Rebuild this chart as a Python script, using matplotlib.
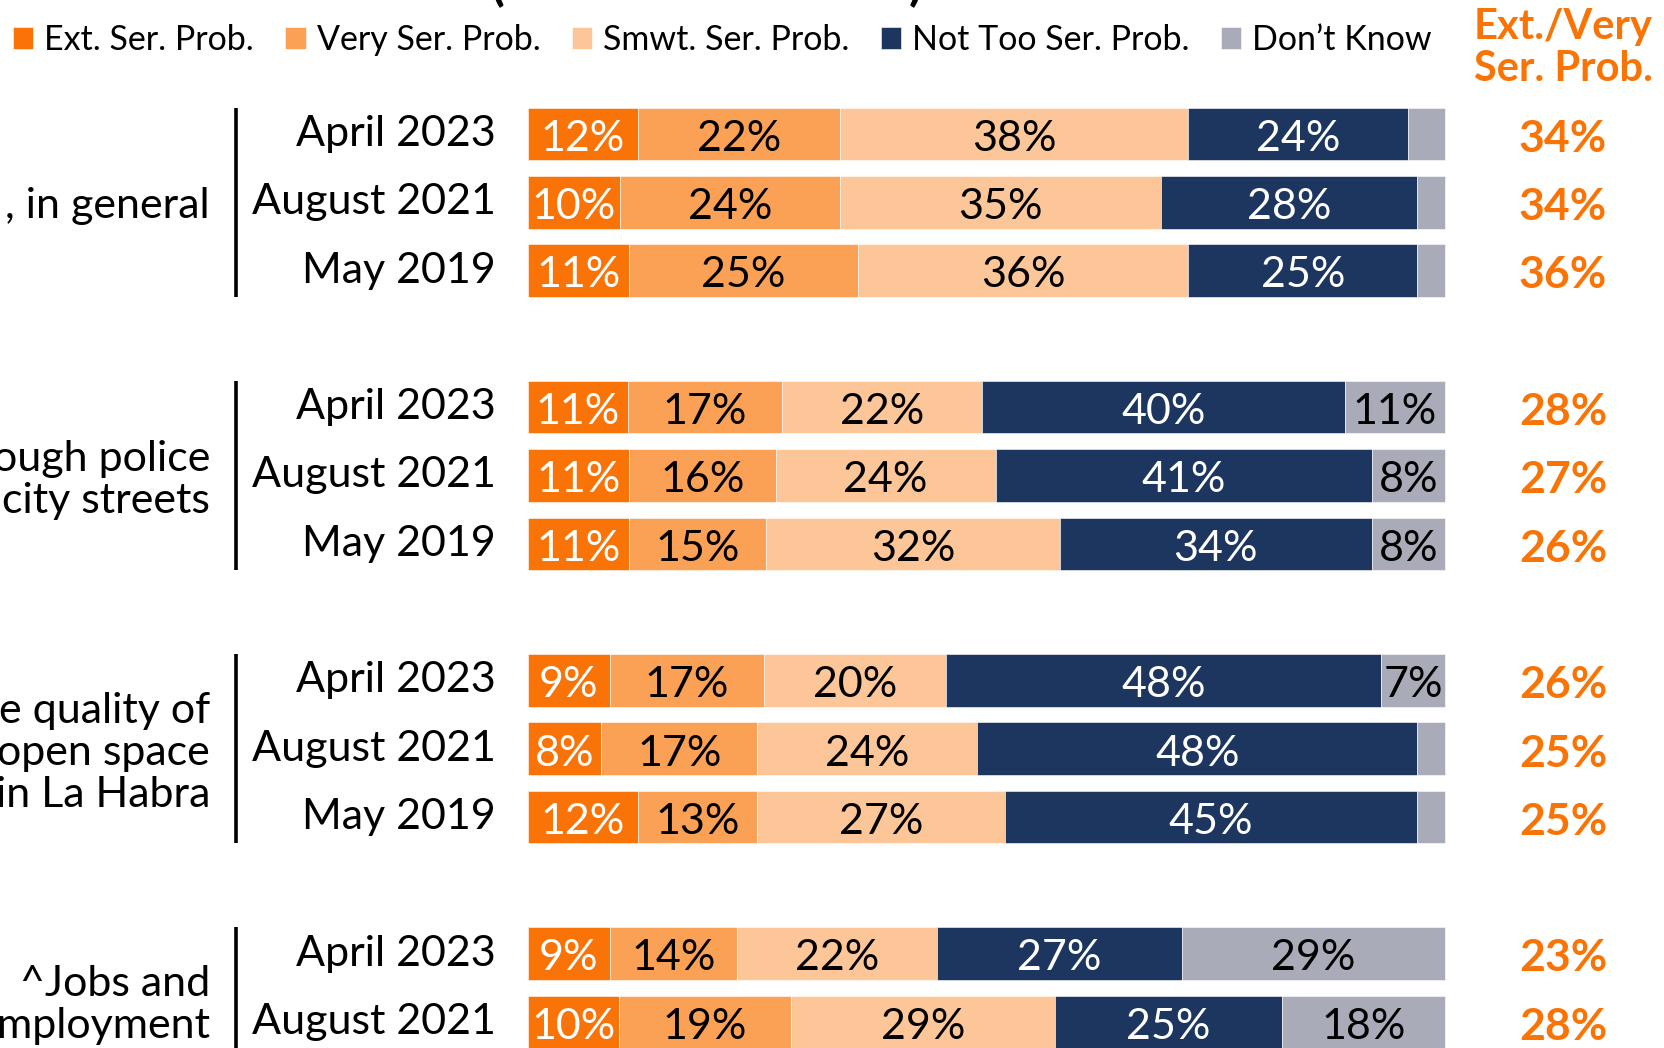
import numpy as np
import matplotlib.pyplot as plt

plt.rcParams['font.family'] = ['Lato', 'DejaVu Sans']

# ---- data -------------------------------------------------------------
categories = [", in general",
              "ough police\ncity streets",
              "e quality of\nopen space\nin La Habra",
              "^Jobs and\nmployment\n "]
waves = ["April 2023", "August 2021", "May 2019"]
rows_per_cat = [3, 3, 3, 2]   # last block runs off the bottom of the slide

series = ["Ext. Ser. Prob.", "Very Ser. Prob.", "Smwt. Ser. Prob.",
          "Not Too Ser. Prob.", "Don\u2019t Know"]
ext_ser = [12, 10, 11, 11, 11, 11, 9, 8, 12, 9, 10]
very_ser = [22, 24, 25, 17, 16, 15, 17, 17, 13, 14, 19]
smwt_ser = [38, 35, 36, 22, 24, 32, 20, 24, 27, 22, 29]
not_too = [24, 28, 25, 40, 41, 34, 48, 48, 45, 27, 25]
dont_know = [4, 3, 3, 11, 8, 8, 7, 3, 3, 29, 18]
ext_very = [34, 34, 36, 28, 27, 26, 26, 25, 25, 23, 28]

colors = ["#F97306", "#FBA155", "#FDC698", "#1D365F", "#A9ABB8"]
text_colors = ["white", "black", "black", "white", "black"]
accent = "#FA7305"

# ---- layout (pixels of the 1664x1048 canvas) ---------------------------
W, H = 1664, 1048
BAR_L, BAR_R = 528, 1445
SX = (BAR_R - BAR_L) / 100.0
ROW0, PITCH = 134, 68.3


def px_x(p):
    return (p - BAR_L) / SX


def px_y(p):
    return (p - ROW0) / PITCH


fig = plt.figure(figsize=(W / 100, H / 100), dpi=100)
ax = fig.add_axes([0, 0, 1, 1])
ax.set_xlim(px_x(0), px_x(W))
ax.set_ylim(px_y(H), px_y(0))
ax.axis("off")

ypos = [g * 4 + r for g, n in enumerate(rows_per_cat) for r in range(n)]
raw = np.array([ext_ser, very_ser, smwt_ser, not_too, dont_know], dtype=float)
norm = raw / raw.sum(axis=0) * 100  # every bar fills the full width

left = np.zeros(len(ypos))
for i, name in enumerate(series):
    ax.barh(ypos, norm[i], left=left, height=0.77, color=colors[i],
            edgecolor="white", linewidth=0.4, label=name)
    for y, l, w, v in zip(ypos, left, norm[i], raw[i]):
        if v >= 5:
            ax.text(l + w / 2, y + 0.02, f"{int(v)}%", ha="center",
                    va="center_baseline", fontsize=31, color=text_colors[i])
    left += norm[i]

# wave labels, dividers and category labels
for g, cat in enumerate(categories):
    for r, wave in enumerate(waves):
        ax.text(px_x(496), g * 4 + r, wave, ha="right", va="center", fontsize=31)
    ax.plot([px_x(236)] * 2, [g * 4 - 0.385, g * 4 + 2.385], color="black",
            lw=2.6, solid_capstyle="butt")
    ax.text(px_x(210), g * 4 + 1.06, cat, ha="right", va="center",
            fontsize=31, linespacing=1.13)

# right-hand summary column
for y, v in zip(ypos, ext_very):
    ax.text(px_x(1563), y + 0.02, f"{v}%", ha="center", va="center_baseline",
            fontsize=32, fontweight="bold", color=accent)
ax.text(px_x(1563), px_y(48), "Ext./Very\nSer. Prob.", ha="center", va="center",
        fontsize=30, fontweight="bold", color=accent, linespacing=1.1)

# tail of the cut-off title
ax.text(px_x(497), px_y(0), "(", ha="center", va="baseline",
        fontsize=36, fontweight="bold")
ax.text(px_x(916), px_y(0), ")", ha="center", va="baseline",
        fontsize=36, fontweight="bold")

fig.legend(loc="center left", bbox_to_anchor=(13 / W, 1 - 40 / H), ncol=5,
           frameon=False, fontsize=24.5, borderpad=0, borderaxespad=0,
           handlelength=0.6, handleheight=0.6, handletextpad=0.32,
           columnspacing=0.92)

fig.savefig("out.png", dpi=100)
